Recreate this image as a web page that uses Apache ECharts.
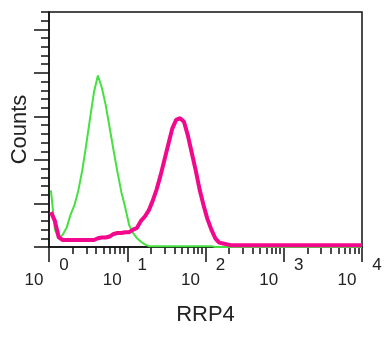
<!DOCTYPE html>
<html>
<head>
<meta charset="utf-8">
<script src="https://cdn.jsdelivr.net/npm/echarts@6/dist/echarts.min.js"></script>
<style>
  html, body { margin: 0; padding: 0; background: #fff; }
  #chart { width: 392px; height: 337px; }
</style>
</head>
<body>
<div id="chart"></div>
<script>
// histogram bins are 0.05 decade wide, from 10^0 up to 10^4 (80 bins)
const binWidth = 0.05;
const decadeMax = 4;

// green: control
const controlCounts = [
  65, 20, 10, 14, 22, 37, 48, 65, 88, 117,
  148, 178, 197, 183, 163, 137, 111, 86, 63, 45,
  25, 16, 10, 6, 3, 1, 1, 1, 1, 1,
  1, 1, 1, 1, 1, 1, 1, 1, 1, 1,
  1, 1, 0, 0, 0, 0, 0, 0, 0, 0,
  0, 0, 0, 0, 0, 0, 0, 0, 0, 0,
  0, 0, 0, 0, 0, 0, 0, 0, 0, 0,
  0, 0, 0, 0, 0, 0, 0, 0, 0, 0
];

// magenta: RRP4 stained
const rrp4Counts = [
  40, 30, 11, 8, 8, 8, 8, 8, 8, 8,
  8, 8, 10, 11, 11, 12, 15, 16, 16, 17,
  17, 20, 22, 30, 35, 42, 53, 66, 82, 100,
  118, 136, 146, 148, 144, 128, 108, 88, 66, 48,
  32, 20, 10, 5, 4, 3, 2, 2, 2, 2,
  2, 2, 2, 2, 2, 2, 2, 2, 2, 2,
  2, 2, 2, 2, 2, 2, 2, 2, 2, 2,
  2, 2, 2, 2, 2, 2, 2, 2, 2, 2
];

const decadeExponents = ['0', '1', '2', '3', '4'];
const countMax = 270;

const font = "'Liberation Sans', Arial, sans-serif";
const ink = '#111';

// one point per bin centre, closed at the right edge of the last bin
function toPoints(counts) {
  const pts = counts.map((c, i) => [(i + 0.5) * binWidth, c]);
  pts.push([decadeMax, counts[counts.length - 1]]);
  return pts;
}

// minor ticks at 2..9 inside every decade
const minorTicks = [];
for (let d = 0; d < decadeMax; d++) {
  for (let k = 2; k <= 9; k++) minorTicks.push(d + Math.log10(k));
}
const majorCountTicks = [0, 50, 100, 150, 200, 250];

const chart = echarts.init(document.getElementById('chart'));
const baseX = {
  type: 'value', min: 0, max: decadeMax, position: 'bottom',
  splitLine: { show: false }
};
const baseY = {
  type: 'value', min: 0, max: countMax, position: 'left',
  splitLine: { show: false }, axisLabel: { show: false }
};

chart.setOption({
  animation: false,
  grid: {
    left: 49, right: 30, top: 12, bottom: 90,
    show: true, borderColor: ink, borderWidth: 1.5, backgroundColor: 'transparent'
  },
  xAxis: [
    Object.assign({}, baseX, {
      axisLine: { show: true, lineStyle: { color: ink, width: 1.5 } },
      axisTick: { show: true, customValues: minorTicks, length: 7, lineStyle: { color: ink, width: 1.5 } },
      axisLabel: { show: false },
      name: 'RRP4', nameLocation: 'middle', nameGap: 57,
      nameTextStyle: { fontFamily: font, fontSize: 22, color: '#222' }
    }),
    Object.assign({}, baseX, {
      interval: 1,
      axisLine: { show: false },
      axisTick: { show: true, length: 15, lineStyle: { color: ink, width: 1.5 } },
      axisLabel: {
        margin: 25, formatter: () => '10', padding: [0, 30, 0, 0],
        fontFamily: font, fontSize: 17, color: '#222'
      }
    }),
    Object.assign({}, baseX, {
      interval: 1,
      axisLine: { show: false },
      axisTick: { show: false },
      axisLabel: {
        margin: 10, formatter: v => decadeExponents[Math.round(v)], padding: [0, 0, 0, 30],
        fontFamily: font, fontSize: 17, color: '#222'
      }
    })
  ],
  yAxis: [
    Object.assign({}, baseY, {
      interval: 10,
      axisLine: { show: true, lineStyle: { color: ink, width: 1.5 } },
      axisTick: { show: true, length: 8, lineStyle: { color: ink, width: 1.5 } },
      name: 'Counts', nameLocation: 'middle', nameGap: 18,
      nameTextStyle: { fontFamily: font, fontSize: 22, color: '#222' }
    }),
    Object.assign({}, baseY, {
      interval: 10,
      axisLine: { show: false },
      axisTick: { show: true, customValues: majorCountTicks, length: 15, lineStyle: { color: ink, width: 1.5 } }
    })
  ],
  series: [
    {
      type: 'line', data: toPoints(controlCounts),
      showSymbol: false, lineStyle: { color: '#46e040', width: 2 }
    },
    {
      type: 'line', data: toPoints(rrp4Counts),
      showSymbol: false, lineStyle: { color: '#f2088c', width: 4 }
    }
  ]
});
</script>
</body>
</html>
